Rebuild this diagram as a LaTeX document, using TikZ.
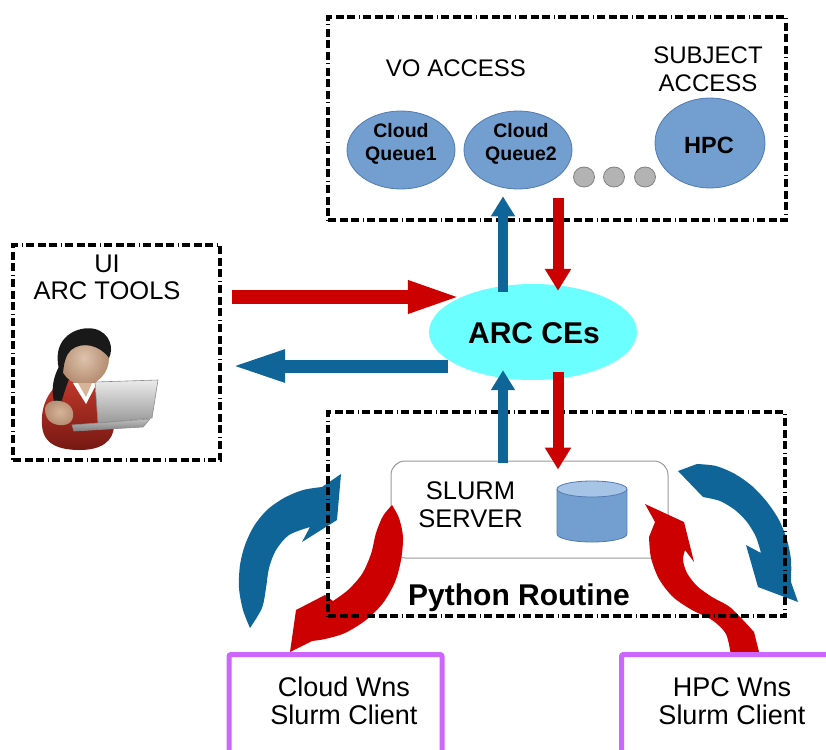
\documentclass[tikz,border=0pt]{standalone}
\usepackage{fontspec}
\setmainfont{Liberation Sans}
\usetikzlibrary{arrows.meta,shapes.geometric}

\definecolor{queueblue}{RGB}{114,159,207}
\definecolor{queueedge}{RGB}{82,122,178}
\definecolor{flowblue}{RGB}{16,101,152}
\definecolor{flowred}{RGB}{204,0,0}
\definecolor{cecyan}{RGB}{108,255,255}
\definecolor{wnpurple}{RGB}{204,102,255}
\definecolor{dotfill}{RGB}{179,179,179}
\definecolor{dotedge}{RGB}{128,128,128}
\definecolor{cyltop}{RGB}{166,196,230}
\definecolor{skin}{RGB}{214,180,152}
\definecolor{skindark}{RGB}{180,140,112}
\definecolor{shirt}{RGB}{196,58,44}
\definecolor{shirtdark}{RGB}{118,24,18}
\definecolor{hair}{RGB}{25,25,25}

\tikzset{
  dbox/.style={draw=black, line width=4pt,
    dash pattern=on 8pt off 3.5pt on 8pt off 3.5pt on 8pt off 3.5pt on 1pt off 3.5pt,
    inner sep=0pt, rectangle},
  serverbox/.style={draw=black!40, line width=1pt, rounded corners=14pt, rectangle, inner sep=0pt},
  queue/.style={ellipse, fill=queueblue, draw=queueedge, line width=0.8pt, inner sep=0pt},
  gdot/.style={ellipse, fill=dotfill, draw=dotedge, line width=0.8pt, inner sep=0pt,
    minimum width=21pt, minimum height=20pt},
  ce/.style={ellipse, fill=cecyan, inner sep=0pt},
  wnbox/.style={draw=wnpurple, line width=5pt, rounded corners=2pt, rectangle, inner sep=0pt},
  bluev/.style={draw=flowblue, line width=10pt, -{Triangle[length=20pt,width=23pt]}},
  redv/.style={draw=flowred, line width=11pt, -{Triangle[length=22pt,width=25pt]}},
  redh/.style={draw=flowred, line width=14pt, -{Triangle[length=55pt,width=29pt]}},
  blueh/.style={draw=flowblue, line width=13pt, -{Triangle[length=55pt,width=29pt]}},
  lbl/.style={anchor=base, inner sep=0pt},
  tsmall/.style={lbl, font=\fontsize{24}{28}\selectfont},
  tmid/.style={lbl, font=\fontsize{25.5}{29}\selectfont},
  twn/.style={lbl, font=\fontsize{27}{31}\selectfont},
  tqueue/.style={lbl, font=\bfseries\fontsize{19.5}{22}\selectfont},
  thpc/.style={lbl, font=\bfseries\fontsize{23.5}{27}\selectfont},
  tbig/.style={lbl, font=\bfseries\fontsize{30}{34}\selectfont},
}

\begin{document}
\begin{tikzpicture}[x=1pt,y=-1pt]
\useasboundingbox (0,0) rectangle (826,749);
\clip (0,0) rectangle (826,749);

% SLURM server box with its disk
\node[serverbox, minimum width=277pt, minimum height=97pt] (server) at (529.5,509.5) {};
\fill[queueblue] (557,489) rectangle (627,534);
\fill[queueblue] (592,534) ellipse [x radius=35pt, y radius=8pt];
\draw[queueedge, line width=0.8pt] (557,489) -- (557,534)
  arc[start angle=180, end angle=360, x radius=35pt, y radius=8pt] -- (627,489);
\filldraw[fill=cyltop, draw=queueedge, line width=0.8pt] (592,489) ellipse [x radius=35pt, y radius=8pt];

% circular exchange arrows, Cloud side
\fill[flowblue] plot[smooth] coordinates {(250,628) (243,610) (239,588) (240,565) (245,545) (254,526) (267,510) (284,498) (303,490) (322,487)}
  -- (341,474) -- (337,520) -- (302,542) -- (310,527)
  -- plot[smooth] coordinates {(310,527) (289,535) (276,550) (269,568) (266,588) (262,608) (250,628)} -- cycle;
\fill[flowred] plot[smooth] coordinates {(392,505) (399,518) (403,537) (401,560) (395,582) (383,603) (366,620) (345,633) (325,639) (312,641)}
  -- (290,652) -- (296,610) -- (325,595) -- (333,601)
  -- plot[smooth] coordinates {(333,601) (348,590) (362,574) (371,554) (376,533) (383,516) (392,505)} -- cycle;

% circular exchange arrows, HPC side
\fill[flowblue] (678,471) -- plot[smooth] coordinates {(697,464) (716,466) (735,474) (752,486) (767,502) (779,520) (787,540) (791,560) (791,582)}
  -- (798,602) -- (758,587) -- (746,545) -- (761,553)
  -- plot[smooth] coordinates {(761,553) (756,537) (747,522) (735,510) (720,501) (703,497)} -- cycle;
\fill[flowred] (655,522) -- plot[smooth] coordinates {(649,537) (651,558) (659,579) (673,597) (692,610) (712,620) (726,634) (731,656)}
  -- (760,656) -- plot[smooth] coordinates {(754,632) (731,608) (712,597) (697,586) (687,573) (683,560) (685,550)}
  -- (694,562) -- (684,522) -- (645,504) -- cycle;

% dashed groups
\node[dbox, minimum width=458pt, minimum height=203pt] (access) at (557,118.5) {};
\node[dbox, minimum width=207pt, minimum height=215pt] (uibox) at (116.5,352.5) {};
\node[dbox, minimum width=457pt, minimum height=204pt] (pybox) at (556.5,514) {};

% queues
\node[queue, minimum width=108pt, minimum height=78pt] (q1) at (401,150) {};
\node[queue, minimum width=108pt, minimum height=78pt] (q2) at (518,150) {};
\node[queue, minimum width=110pt, minimum height=90pt] (hpc) at (710,143) {};
\node[gdot] (d1) at (584,177) {};
\node[gdot] (d2) at (614,177) {};
\node[gdot] (d3) at (645,177) {};

% computing element
\node[ce, minimum width=208pt, minimum height=96pt] (arc) at (533,332) {};

% job and status flows
\draw[bluev] ([xshift=-30pt,yshift=-8pt]arc.north) -- ([xshift=-15pt,yshift=-7pt]q2.south);
\draw[redv] ([xshift=40pt,yshift=-9pt]q2.south) -- ([xshift=25pt,yshift=-7pt]arc.north);
\draw[redh] ([xshift=10pt,yshift=55.5pt]uibox.east) -- ([xshift=34pt,yshift=35pt]arc.west);
\draw[blueh] ([xshift=19pt,yshift=-34pt]arc.west) -- ([xshift=8pt,yshift=-13.5pt]uibox.east);
\draw[bluev] ([xshift=-26.5pt,yshift=-2pt]server.north) -- ([xshift=-30pt,yshift=10pt]arc.south);
\draw[redv] ([xshift=25pt,yshift=8pt]arc.south) -- ([xshift=28.5pt,yshift=-9pt]server.north);

% worker node boxes
\node[wnbox, minimum width=213pt, minimum height=140pt, anchor=north] (cloudwn) at (335.5,652) {};
\node[wnbox, minimum width=240pt, minimum height=140pt, anchor=north west] (hpcwn) at (619,652) {};

% labels
\node[tsmall] (tvo) at (456,76.6) {VO ACCESS};
\node[tsmall] (tsub1) at (708,63.6) {SUBJECT};
\node[tsmall] (tsub2) at (708,91.6) {ACCESS};
\node[tqueue] (tq1a) at (401,137) {Cloud};
\node[tqueue] (tq1b) at (401,160) {Queue1};
\node[tqueue] (tq2a) at (521,137) {Cloud};
\node[tqueue] (tq2b) at (521,160) {Queue2};
\node[thpc] (thpc) at (709,153.4) {HPC};
\node[tmid] (tui) at (107,272) {UI};
\node[tmid] (ttools) at (107,299) {ARC TOOLS};
\node[tbig] (tce) at (534,343.5) {ARC CEs};
\node[tmid] (tslurm1) at (470.5,499.3) {SLURM};
\node[tmid] (tslurm2) at (470.5,527.8) {SERVER};
\node[tbig] (tpy) at (519,605) {Python Routine};
\node[twn] (tcw1) at (344,696) {Cloud Wns};
\node[twn] (tcw2) at (344,724) {Slurm Client};
\node[twn] (thw1) at (732,696) {HPC Wns};
\node[twn] (thw2) at (732,724) {Slurm Client};

% user at a laptop
\shade[top color=shirt, bottom color=shirtdark]
  (80,376) .. controls (55,378) and (40,400) .. (42,425)
  .. controls (43,445) and (60,450) .. (80,450)
  .. controls (100,450) and (114,442) .. (114,425)
  .. controls (116,400) and (104,378) .. (80,376) -- cycle;
\fill[hair] (62,362) .. controls (52,376) and (49,396) .. (58,410)
  .. controls (63,400) and (65,386) .. (72,373) -- cycle;
\shade[inner color=skin!80!white, outer color=skindark] (84,358) ellipse [x radius=25pt, y radius=27pt];
\fill[hair] (59,369) .. controls (51,337) and (78,325) .. (95,329)
  .. controls (110,333) and (114,348) .. (109,358)
  .. controls (100,345) and (82,341) .. (71,350)
  .. controls (66,355) and (64,362) .. (63,373) -- cycle;
\fill[white] (73,383) -- (86,404) -- (97,383) -- cycle;
\fill[skin] (78,383) -- (86,397) -- (92,383) -- cycle;
\shade[inner color=skin, outer color=skindark]
  (45,411) .. controls (44,400) and (58,398) .. (68,404)
  .. controls (76,410) and (75,424) .. (64,425)
  .. controls (52,426) and (46,420) .. (45,411) -- cycle;
\shade[top color=black!8, bottom color=black!40, draw=black!45, line width=0.6pt]
  (95,382) -- (158,380) -- (152,418) -- (98,423) -- cycle;
\shade[top color=black!25, bottom color=black!50, draw=black!45, line width=0.6pt]
  (72,425) -- (150,419) -- (143,427) -- (74,431) -- cycle;
\end{tikzpicture}
\end{document}
